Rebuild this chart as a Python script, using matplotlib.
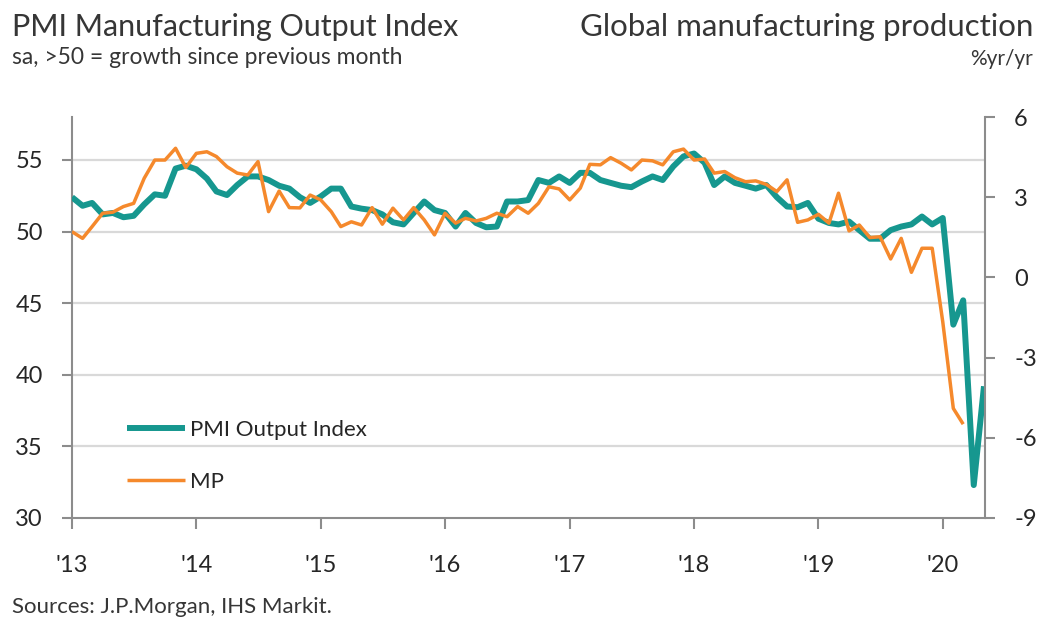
import matplotlib
matplotlib.use('Agg')
import matplotlib.pyplot as plt
import matplotlib.dates as mdates
import pandas as pd

# ---- data (monthly, Jan 2013 onwards) ----
pmi_output = [52.4, 51.8, 52.0, 51.2, 51.3, 51.0, 51.1, 51.9, 52.6, 52.5, 54.4, 54.6,
              54.35, 53.7, 52.8, 52.55, 53.25, 53.85, 53.85, 53.6, 53.2, 53.0, 52.4, 52.0,
              52.45, 53.0, 53.0, 51.75, 51.6, 51.5, 51.2, 50.65, 50.5, 51.3, 52.1, 51.5,
              51.3, 50.35, 51.3, 50.6, 50.3, 50.35, 52.1, 52.1, 52.2, 53.6, 53.4, 53.85,
              53.4, 54.1, 54.1, 53.6, 53.4, 53.2, 53.1, 53.5, 53.85, 53.6, 54.55, 55.25,
              55.45, 54.8, 53.25, 53.85, 53.4, 53.2, 53.0, 53.25, 52.4, 51.75, 51.7, 52.0,
              50.9, 50.6, 50.5, 50.7, 50.1, 49.5, 49.5, 50.1, 50.35, 50.5, 51.05, 50.5,
              50.95, 43.5, 45.2, 32.3, 39.2]
mp_yoy = [1.71, 1.46, 1.90, 2.40, 2.44, 2.65, 2.77, 3.71, 4.39, 4.39, 4.83, 4.11,
          4.64, 4.70, 4.52, 4.14, 3.90, 3.83, 4.33, 2.46, 3.23, 2.61, 2.60, 3.08,
          2.90, 2.46, 1.90, 2.08, 1.96, 2.61, 1.99, 2.59, 2.15, 2.61, 2.15, 1.59,
          2.40, 2.03, 2.21, 2.11, 2.21, 2.40, 2.27, 2.65, 2.40, 2.77, 3.39, 3.31,
          2.90, 3.34, 4.23, 4.21, 4.48, 4.27, 4.02, 4.39, 4.36, 4.21, 4.70, 4.80,
          4.39, 4.43, 3.90, 3.96, 3.73, 3.58, 3.61, 3.48, 3.21, 3.65, 2.06, 2.15,
          2.36, 2.03, 3.15, 1.74, 1.96, 1.49, 1.52, 0.69, 1.46, 0.19, 1.09, 1.09,
          -1.66, -4.90, -5.49]
left_ticks = [30, 35, 40, 45, 50, 55]
right_ticks = [-9, -6, -3, 0, 3, 6]
year_ticks = ['2013', '2014', '2015', '2016', '2017', '2018', '2019', '2020']

pmi_dates = pd.date_range('2013-01-01', periods=len(pmi_output), freq='MS')
mp_dates = pd.date_range('2013-01-01', periods=len(mp_yoy), freq='MS')

FONT = ['Lato', 'DejaVu Sans']
plt.rcParams['font.family'] = FONT
plt.rcParams['axes.unicode_minus'] = False
TEAL = '#16978F'
ORANGE = '#F5892C'
SPINE = '#8C8C8C'
GRID = '#D9D9D9'
TXT = '#262626'
TITLE = '#363636'

fig = plt.figure(figsize=(10.42, 6.21), dpi=100)
ax = fig.add_axes([72/1042, 1-518/621, (985-72)/1042, (518-117)/621])
ax2 = ax.twinx()

ax.plot(pmi_dates, pmi_output, color=TEAL, lw=4.3, solid_joinstyle='round',
        solid_capstyle='butt', label='PMI Output Index', zorder=3)
ax2.plot(mp_dates, mp_yoy, color=ORANGE, lw=2.5, solid_joinstyle='round',
         solid_capstyle='butt', label='MP', zorder=3)

ax.set_ylim(30, 58)
ax2.set_ylim(-9, 6)
ax.set_yticks(left_ticks)
ax2.set_yticks(right_ticks)
ax.set_xlim(pd.Timestamp('2013-01-01'), pd.Timestamp('2020-05-04'))
ax.set_xticks([pd.Timestamp(y + '-01-01') for y in year_ticks])
ax.xaxis.set_major_formatter(mdates.DateFormatter("'%y"))

for y in left_ticks[1:]:
    ax.axhline(y, color=GRID, lw=1.6, zorder=1)

for a in (ax, ax2):
    a.spines['top'].set_visible(False)
    for s in ('left', 'right', 'bottom'):
        a.spines[s].set_color(SPINE)
        a.spines[s].set_linewidth(1.5)
    a.set_facecolor('none')
ax2.spines['bottom'].set_visible(False)
ax2.spines['left'].set_visible(False)
ax.spines['right'].set_visible(False)

ax.tick_params(axis='y', direction='out', length=7, width=1.5, color=SPINE,
               labelsize=17, labelcolor=TXT, pad=14)
ax2.tick_params(axis='y', direction='out', length=7, width=1.5, color=SPINE,
                labelsize=17, labelcolor=TXT, pad=14)
ax.tick_params(axis='x', direction='out', length=8, width=1.5, color=SPINE,
               labelsize=17, labelcolor=TXT, pad=19)

h1, l1 = ax.get_legend_handles_labels()
h2, l2 = ax2.get_legend_handles_labels()
leg = ax2.legend(h1 + h2, l1 + l2, loc='upper left',
                 bbox_to_anchor=(127/1042, 1-420/621), bbox_transform=fig.transFigure,
                 frameon=False, fontsize=16, handlelength=2.6, handletextpad=0.25,
                 labelspacing=1.45, borderpad=0, borderaxespad=0)
for t in leg.get_texts():
    t.set_color(TXT)

fig.text(12/1042, 1-36/621, 'PMI Manufacturing Output Index', fontsize=22,
         color=TITLE, va='baseline', ha='left')
fig.text(12/1042, 1-64/621, 'sa, >50 = growth since previous month', fontsize=16.5,
         color=TITLE, va='baseline', ha='left')
fig.text(1033/1042, 1-36/621, 'Global manufacturing production', fontsize=22.5,
         color=TITLE, va='baseline', ha='right')
fig.text(1033/1042, 1-65/621, '%yr/yr', fontsize=15, color=TITLE,
         va='baseline', ha='right')
fig.text(12/1042, 1-613/621, 'Sources: J.P.Morgan, IHS Markit.', fontsize=16,
         color=TITLE, va='baseline', ha='left')

fig.savefig('out.png', dpi=100, facecolor='white')
